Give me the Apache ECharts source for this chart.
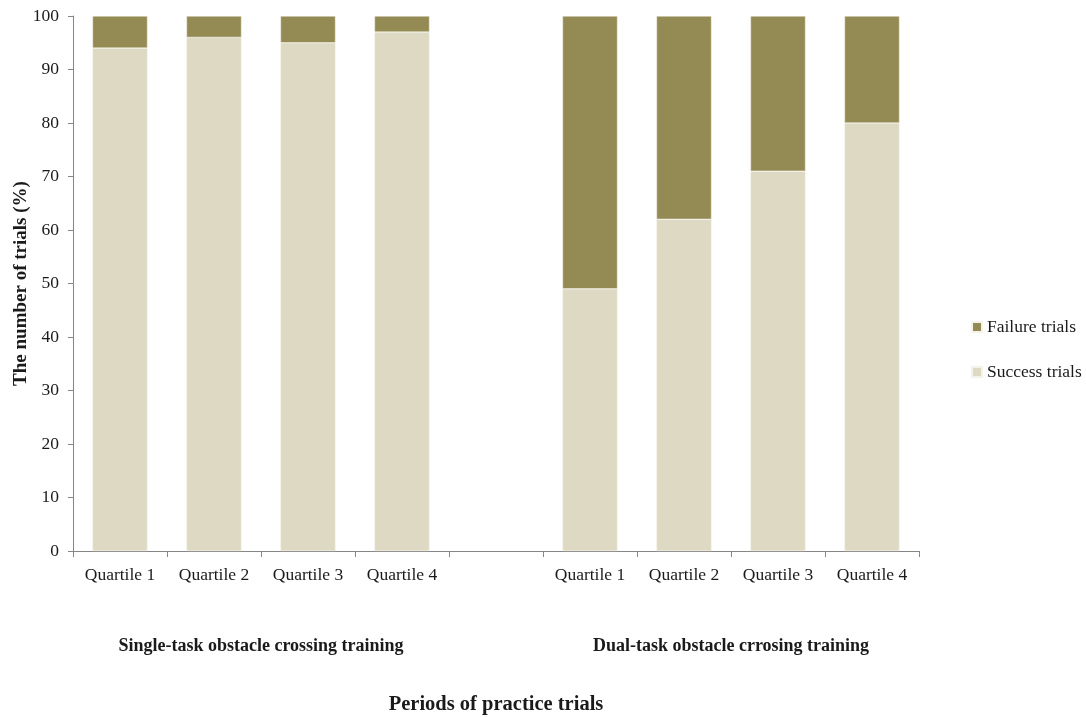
<!DOCTYPE html>
<html>
<head>
<meta charset="utf-8">
<script src="https://cdn.jsdelivr.net/npm/echarts@6/dist/echarts.min.js"></script>
<style>
  html, body { margin: 0; padding: 0; background: #ffffff; }
  #chart { width: 1086px; height: 717px; }
</style>
</head>
<body>
<div id="chart"></div>
<script>
// Practice periods: four quartiles per training type, with an empty gap slot between groups
const categories = ['Quartile 1', 'Quartile 2', 'Quartile 3', 'Quartile 4', '',
                    'Quartile 1', 'Quartile 2', 'Quartile 3', 'Quartile 4'];
const successTrials = [94, 96, 95, 97, null, 49, 62, 71, 80];
const failureTrials = [6, 4, 5, 3, null, 51, 38, 29, 20];
const groupLabels = ['Single-task obstacle crossing training', 'Dual-task obstacle crrosing training'];
const yTicks = { min: 0, max: 100, interval: 10 };

const FONT = '"Liberation Serif", "Times New Roman", serif';
const AXIS_GREY = '#868686';
const TEXT = '#1a1a1a';

const chart = echarts.init(document.getElementById('chart'));

const grid = { left: 73, right: 167, top: 16, bottom: 166, outerBoundsMode: 'none', containLabel: false };
const plotW = 1086 - grid.left - grid.right;
const slot = plotW / categories.length;

chart.setOption({
  animation: false,
  backgroundColor: '#ffffff',
  textStyle: { fontFamily: FONT },
  grid: grid,
  legend: {
    orient: 'vertical',
    left: 971,
    top: 318,
    padding: 0,
    itemWidth: 10,
    itemHeight: 10,
    itemGap: 27,
    icon: 'rect',
    data: ['Failure trials', 'Success trials'],
    textStyle: { fontFamily: FONT, fontSize: 17.5, color: TEXT }
  },
  xAxis: {
    type: 'category',
    data: categories,
    boundaryGap: true,
    name: 'Periods of practice trials',
    nameLocation: 'middle',
    nameGap: 143,
    nameMoveOverlap: false,
    nameTextStyle: { fontFamily: FONT, fontSize: 20.5, fontWeight: 'bold', color: TEXT },
    axisLine: { lineStyle: { color: AXIS_GREY, width: 1 } },
    axisTick: { show: true, length: 6, lineStyle: { color: AXIS_GREY } },
    axisLabel: { fontFamily: FONT, fontSize: 17.5, color: TEXT, margin: 15, interval: 0 }
  },
  yAxis: {
    type: 'value',
    min: yTicks.min,
    max: yTicks.max,
    interval: yTicks.interval,
    name: 'The number of trials (%)',
    nameLocation: 'middle',
    nameGap: 42,
    nameMoveOverlap: false,
    nameRotate: 90,
    nameTextStyle: { fontFamily: FONT, fontSize: 19, fontWeight: 'bold', color: TEXT },
    splitLine: { show: false },
    axisLine: { show: true, lineStyle: { color: AXIS_GREY, width: 1 } },
    axisTick: { show: true, length: 5, lineStyle: { color: AXIS_GREY } },
    axisLabel: { fontFamily: FONT, fontSize: 17.5, color: TEXT, margin: 14 }
  },
  series: [
    {
      name: 'Success trials',
      type: 'bar',
      stack: 'trials',
      data: successTrials,
      barWidth: 55,
      itemStyle: { color: '#ddd9c3', borderColor: '#f4f2ea', borderWidth: 0.5 }
    },
    {
      name: 'Failure trials',
      type: 'bar',
      stack: 'trials',
      data: failureTrials,
      barWidth: 55,
      itemStyle: { color: '#948a54', borderColor: '#f4f2ea', borderWidth: 0.5 }
    }
  ],
  graphic: groupLabels.map(function (txt, i) {
    // centre each group label under its four quartiles
    const cx = grid.left + slot * (i === 0 ? 2 : 7);
    return {
      type: 'text',
      x: cx,
      y: 646,
      style: {
        text: txt,
        fontFamily: FONT,
        fontSize: 18,
        fontWeight: 'bold',
        fill: TEXT,
        align: 'center',
        verticalAlign: 'middle'
      }
    };
  })
});
</script>
</body>
</html>
